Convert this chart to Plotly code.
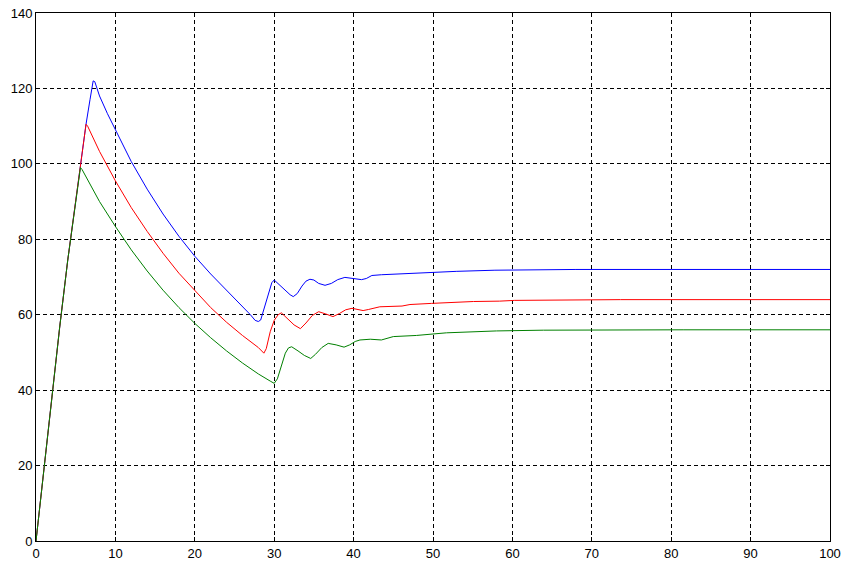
import plotly.graph_objects as go

# ---- data ----
blue_x = [0, 1, 2, 3, 4, 5, 5.6, 6.3, 6.8, 7.2, 7.4, 8, 9, 10, 12, 14, 16, 18, 20, 22, 24, 26,
          27, 27.6, 28.0, 28.3, 28.7, 29.2, 29.7, 30.0, 31.0, 32.0, 32.4, 32.9, 33.5, 34.0, 34.5,
          35.0, 35.6, 36.4, 37.2, 38.0, 38.9, 39.6, 40.3, 41.0, 41.6, 42.3, 43.5, 45.6, 46.5,
          49.6, 53.0, 57.8, 62, 68, 80, 100]
blue_y = [0, 19.5, 38.5, 57, 74.5, 90.5, 99, 110.5, 117, 122, 121.8, 118.0, 113.3, 109.0, 100.6,
          93.3, 86.7, 80.8, 75.5, 70.8, 66.5, 62.3, 60.0, 58.5, 58.2, 58.6, 61.5, 65.5, 68.5, 69.2,
          67.2, 65.3, 64.8, 65.6, 67.6, 68.9, 69.4, 69.2, 68.3, 67.8, 68.3, 69.3, 69.9, 69.7, 69.4,
          69.3, 69.6, 70.4, 70.6, 70.8, 71.0, 71.2, 71.5, 71.8, 71.9, 72.0, 72.0, 72.0]

red_x = [0, 1, 2, 3, 4, 5, 5.6, 6.3, 6.5, 8, 10, 12, 14, 16, 18, 20, 22, 24, 26, 28, 28.7, 29.0,
         29.5, 30.0, 30.5, 30.9, 31.5, 32.5, 33.3, 34.0, 34.8, 35.6, 36.5, 37.4, 38.2, 39.0, 39.8,
         40.8, 41.2, 41.9, 43.3, 46.1, 47.1, 49.8, 55.1, 58.4, 60.3, 73.6, 100]
red_y = [0, 19.5, 38.5, 57, 74.5, 90.5, 99, 110.5, 110.0, 103.3, 95.5, 88.4, 82.1, 76.3, 71.0,
         66.3, 61.9, 58.0, 54.5, 51.3, 49.8, 51.0, 55.5, 58.5, 60.0, 60.5, 59.3, 57.3, 56.3, 57.8,
         59.8, 60.8, 60.2, 59.5, 60.3, 61.3, 61.7, 61.4, 61.1, 61.4, 62.1, 62.3, 62.7, 63.0, 63.5,
         63.6, 63.8, 64.0, 64.0]

green_x = [0, 1, 2, 3, 4, 5, 5.6, 5.8, 8, 10, 12, 14, 16, 18, 20, 22, 24, 26, 28, 29.5, 30.0,
           30.4, 30.9, 31.4, 31.8, 32.2, 33.0, 33.8, 34.6, 35.2, 36.0, 36.8, 37.8, 38.8, 39.5,
           40.2, 40.8, 42.1, 43.5, 45.0, 47.9, 51.7, 58.0, 63.9, 81.5, 100]
green_y = [0, 19.5, 38.5, 57, 74.5, 90.5, 99, 98.5, 90.0, 83.4, 77.2, 71.6, 66.5, 61.9, 57.7,
           53.9, 50.4, 47.2, 44.3, 42.4, 41.8, 43.0, 46.5, 49.8, 51.2, 51.5, 50.4, 49.2, 48.4,
           49.5, 51.3, 52.4, 52.0, 51.4, 52.0, 52.9, 53.3, 53.5, 53.3, 54.2, 54.5, 55.2, 55.7,
           55.9, 56.0, 56.0]

x_ticks = [0, 10, 20, 30, 40, 50, 60, 70, 80, 90, 100]
y_ticks = [0, 20, 40, 60, 80, 100, 120, 140]

fig = go.Figure()
for xs, ys, col in [(blue_x, blue_y, "#0000ff"), (red_x, red_y, "#ff0000"), (green_x, green_y, "#008000")]:
    fig.add_trace(go.Scatter(x=xs, y=ys, mode="lines", line=dict(color=col, width=1),
                             showlegend=False, hoverinfo="skip"))

axis_common = dict(
    showline=True, linecolor="black", linewidth=1, mirror="all",
    ticks="inside", ticklen=4, tickcolor="black",
    showgrid=True, gridcolor="black", gridwidth=1, griddash="4px,3px",
    zeroline=False, automargin=False, ticklabeloverflow="allow",
    tickfont=dict(family="Liberation Sans, Arial, sans-serif", size=13, color="black"),
)

fig.update_xaxes(range=[0, 100], tickvals=x_ticks, ticktext=[str(v) for v in x_ticks], **axis_common)
fig.update_yaxes(range=[0, 140], tickvals=y_ticks, ticktext=[str(v) for v in y_ticks], **axis_common)

fig.update_layout(
    width=862, height=574,
    margin=dict(l=36, r=32, t=13, b=33, pad=0),
    paper_bgcolor="white", plot_bgcolor="white",
)

# remove the default 8px page margin so the figure fills the 862x574 window exactly
fig.write_html("out.html", config={"displayModeBar": False},
               post_script="document.body.style.margin='0';")
